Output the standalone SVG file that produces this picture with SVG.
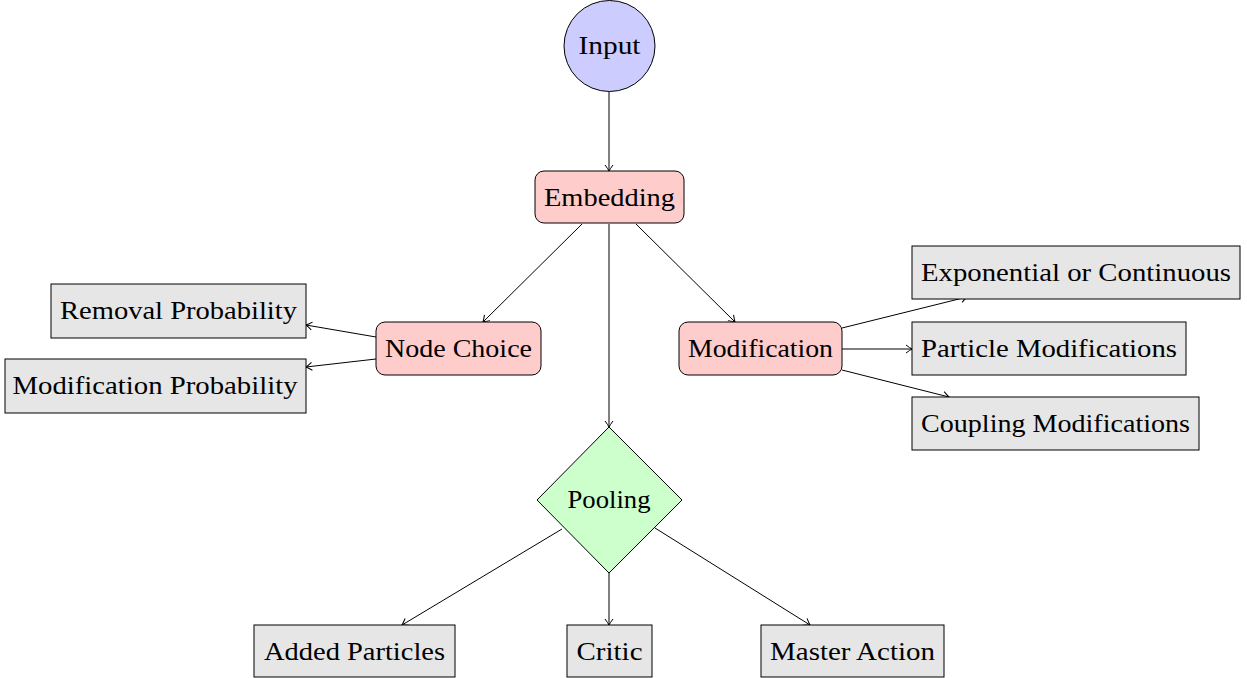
<svg xmlns="http://www.w3.org/2000/svg" width="1247" height="678" viewBox="0 0 1247 678">
<style>
text{font-family:"Liberation Serif","DejaVu Serif",serif;font-size:25px;fill:#000;text-anchor:middle}
.blue{fill:#ccccff;stroke:#000;stroke-width:1}
.red{fill:#ffcccc;stroke:#000;stroke-width:1}
.green{fill:#ccffcc;stroke:#000;stroke-width:1}
.gray{fill:#e6e6e6;stroke:#000;stroke-width:1}
.edge{stroke:#000;stroke-width:1;fill:none;marker-end:url(#arr)}
</style>
<defs>
<marker id="arr" viewBox="-8 -5 9 10" refX="0" refY="0" markerWidth="9" markerHeight="10" markerUnits="userSpaceOnUse" orient="auto">
<path d="M-6,-4 Q-2,-1 0,0 Q-2,1 -6,4" fill="none" stroke="#000" stroke-width="1"/>
</marker>
</defs>
<rect width="1247" height="678" fill="#fff"/>
<g id="connectors">
<line class="edge" x1="609" y1="92" x2="609" y2="171"/>
<line class="edge" x1="582" y1="224" x2="483" y2="322"/>
<line class="edge" x1="609" y1="224" x2="609" y2="427"/>
<line class="edge" x1="636" y1="224" x2="735" y2="322"/>
<line class="edge" x1="376" y1="337" x2="306" y2="325"/>
<line class="edge" x1="376" y1="359" x2="306" y2="367"/>
<line class="edge" x1="842" y1="328" x2="967" y2="297"/>
<line class="edge" x1="842" y1="349" x2="912" y2="349"/>
<line class="edge" x1="842" y1="370" x2="949" y2="397"/>
<line class="edge" x1="562" y1="529" x2="402" y2="625"/>
<line class="edge" x1="609" y1="573" x2="609" y2="625"/>
<line class="edge" x1="655" y1="528" x2="810" y2="625"/>
</g>
<g id="input"><circle class="blue" cx="609.5" cy="46" r="45.5"/><text x="609.5" y="54" textLength="62" lengthAdjust="spacingAndGlyphs">Input</text></g>
<g id="embedding"><rect class="red" x="535" y="171" width="149" height="52" rx="9"/><text x="609.5" y="206" textLength="131" lengthAdjust="spacingAndGlyphs">Embedding</text></g>
<g id="nodechoice"><rect class="red" x="376" y="322" width="165" height="53" rx="9"/><text x="458.5" y="357" textLength="147" lengthAdjust="spacingAndGlyphs">Node Choice</text></g>
<g id="modification"><rect class="red" x="679" y="322" width="163" height="53" rx="9"/><text x="760.5" y="357" textLength="145" lengthAdjust="spacingAndGlyphs">Modification</text></g>
<g id="removal"><rect class="gray" x="51" y="284" width="255" height="54"/><text x="178.5" y="319" textLength="237" lengthAdjust="spacingAndGlyphs">Removal Probability</text></g>
<g id="modprob"><rect class="gray" x="5" y="359" width="301" height="54"/><text x="155" y="394" textLength="285" lengthAdjust="spacingAndGlyphs">Modification Probability</text></g>
<g id="expcont"><rect class="gray" x="912" y="246" width="328" height="53"/><text x="1076" y="281" textLength="310" lengthAdjust="spacingAndGlyphs">Exponential or Continuous</text></g>
<g id="particlemod"><rect class="gray" x="912" y="322" width="274" height="53"/><text x="1049" y="357" textLength="256" lengthAdjust="spacingAndGlyphs">Particle Modifications</text></g>
<g id="couplingmod"><rect class="gray" x="912" y="397" width="287" height="53"/><text x="1055.5" y="432" textLength="269" lengthAdjust="spacingAndGlyphs">Coupling Modifications</text></g>
<g id="pooling"><polygon class="green" points="609,427 682,500 609,573 537,500"/><text x="609" y="508" textLength="83" lengthAdjust="spacingAndGlyphs">Pooling</text></g>
<g id="added"><rect class="gray" x="254" y="625" width="201" height="52"/><text x="354.5" y="660" textLength="181" lengthAdjust="spacingAndGlyphs">Added Particles</text></g>
<g id="critic"><rect class="gray" x="567" y="625" width="85" height="52"/><text x="609.5" y="660" textLength="66" lengthAdjust="spacingAndGlyphs">Critic</text></g>
<g id="master"><rect class="gray" x="761" y="625" width="183" height="52"/><text x="852.5" y="660" textLength="165" lengthAdjust="spacingAndGlyphs">Master Action</text></g>
</svg>
